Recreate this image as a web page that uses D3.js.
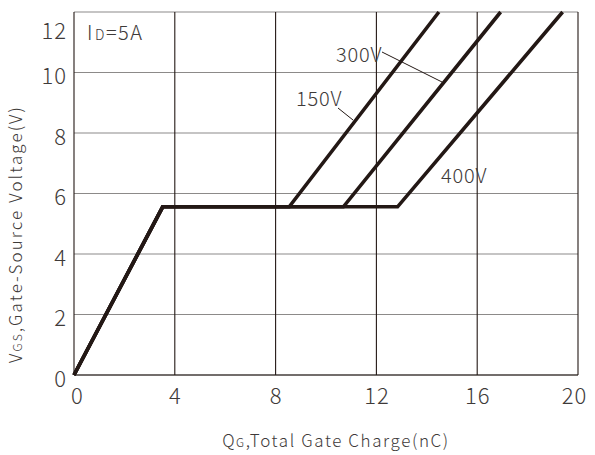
<!DOCTYPE html>
<html><head><meta charset="utf-8">
<script src="https://cdn.jsdelivr.net/npm/d3@7"></script>
<style>
body{margin:0;background:#fff;}
text{font-family:"Noto Sans CJK JP","Noto Sans",sans-serif;fill:#3e3a39;font-weight:300;}
</style></head>
<body><svg id="c" width="595" height="455"></svg>
<script>
const xTicks=[0,4,8,12,16,20];
const yTicks=[0,2,4,6,8,10,12];
const riseQ=[0,3.52];
const riseV=[0,5.56];
const seriesNames=["150V","300V","400V"];
const plateauEndQ=[8.54,10.69,12.84];
const plateauV=[5.56,5.56,5.56];
const topQ=[14.48,16.93,19.39];
const topV=[12,12,12];

const svg=d3.select("#c");
const L=74,R=578,T=12,B=375;
const x=d3.scaleLinear().domain([0,20]).range([L,R]);
const y=d3.scaleLinear().domain([0,12]).range([B,T]);

svg.append("g").selectAll("line").data(yTicks).join("line")
 .attr("x1",L).attr("x2",R).attr("y1",d=>y(d)).attr("y2",d=>y(d))
 .attr("stroke","#8c8a89").attr("stroke-width",1.2);
svg.append("g").selectAll("line").data(xTicks).join("line")
 .attr("x1",d=>x(d)).attr("x2",d=>x(d)).attr("y1",T).attr("y2",B)
 .attr("stroke","#231815").attr("stroke-width",1.1);
svg.append("line").attr("x1",L).attr("x2",R).attr("y1",B).attr("y2",B).attr("stroke","#231815").attr("stroke-width",1.2);

const xa=d3.axisBottom(x).tickValues(xTicks).tickSize(0).tickPadding(0).tickFormat(d3.format("d"));
const gx=svg.append("g").attr("transform",`translate(0,${B})`).call(xa);
gx.select(".domain").remove();
gx.selectAll("text").attr("dy",null).attr("y",29).style("font-size","22px").style("letter-spacing","1px").attr("fill","#3e3a39")
 .attr("dx",d=>d===0?3:(d===20?-4:0));
const ya=d3.axisLeft(y).tickValues(yTicks).tickSize(0).tickPadding(0).tickFormat(d3.format("d"));
const gy=svg.append("g").attr("transform",`translate(${L-7},0)`).call(ya);
gy.select(".domain").remove();
gy.selectAll("text").attr("x",0).attr("dy",d=>d===12?"1.2em":"0.5em").style("font-size","22px").style("letter-spacing","1px").attr("fill","#3e3a39");

const line=d3.line().x(d=>x(d[0])).y(d=>y(d[1]));
seriesNames.forEach((n,i)=>{
  const pts=[[riseQ[0],riseV[0]],[riseQ[1],riseV[1]],[plateauEndQ[i],plateauV[i]],[topQ[i],topV[i]]];
  svg.append("path").attr("d",line(pts)).attr("fill","none").attr("stroke","#231815")
   .attr("stroke-width",3.6).attr("stroke-linejoin","miter");
});

const ann=svg.append("g").style("font-size","20px").style("letter-spacing","0.8px");
ann.append("text").attr("x",336).attr("y",62).text("300V");
ann.append("text").attr("x",296).attr("y",106).text("150V");
ann.append("text").attr("x",441).attr("y",183).text("400V");
svg.append("line").attr("x1",382).attr("y1",52).attr("x2",442).attr("y2",82).attr("stroke","#231815").attr("stroke-width",1);
svg.append("line").attr("x1",338).attr("y1",108).attr("x2",353).attr("y2",120).attr("stroke","#231815").attr("stroke-width",1);

const id=svg.append("text").attr("x",87).attr("y",40).style("font-size","20px").style("letter-spacing","1.5px");
id.append("tspan").text("I");
id.append("tspan").style("font-size","14px").attr("dx",1).text("D");
id.append("tspan").text("=5A");

const xt=svg.append("text").attr("x",336).attr("y",447).attr("text-anchor","middle").style("font-size","17px").style("letter-spacing","1.6px");
xt.append("tspan").text("Q");
xt.append("tspan").style("font-size","12px").text("G");
xt.append("tspan").text(",Total Gate Charge(nC)");
const yt=svg.append("text").attr("transform","translate(22,234) rotate(-90)").attr("text-anchor","middle").style("font-size","17px").style("letter-spacing","2.1px");
yt.append("tspan").text("V");
yt.append("tspan").style("font-size","12px").text("GS");
yt.append("tspan").text(",Gate-Source Voltage(V)");
</script></body></html>
